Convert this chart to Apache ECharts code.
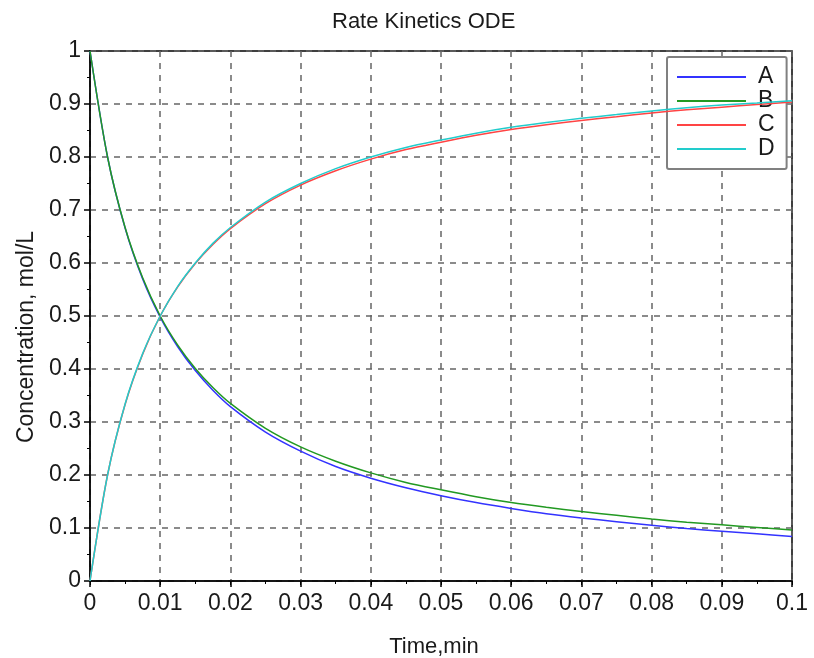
<!DOCTYPE html>
<html><head><meta charset="utf-8">
<script src="https://cdn.jsdelivr.net/npm/echarts@6/dist/echarts.min.js"></script>
<style>html,body{margin:0;padding:0;background:#fff}#c{width:814px;height:658px}</style>
</head><body><div id="c"></div>
<script>
var times = [0, 0.0025, 0.005, 0.0075, 0.01, 0.0125, 0.015, 0.0175, 0.02, 0.025, 0.03, 0.035, 0.04, 0.045, 0.05, 0.055, 0.06, 0.065, 0.07, 0.075, 0.08, 0.085, 0.09, 0.095, 0.1];
var seriesA = [1, 0.8, 0.666, 0.57, 0.498, 0.442, 0.397, 0.36, 0.329, 0.281, 0.245, 0.216, 0.194, 0.176, 0.161, 0.148, 0.137, 0.127, 0.119, 0.112, 0.105, 0.099, 0.094, 0.089, 0.084];
var seriesB = [1, 0.8, 0.667, 0.572, 0.5, 0.445, 0.401, 0.365, 0.335, 0.288, 0.253, 0.226, 0.204, 0.186, 0.172, 0.159, 0.148, 0.139, 0.131, 0.124, 0.117, 0.111, 0.106, 0.101, 0.096];
var seriesC = [0, 0.2, 0.333, 0.428, 0.5, 0.555, 0.599, 0.635, 0.665, 0.712, 0.747, 0.774, 0.796, 0.814, 0.828, 0.841, 0.852, 0.861, 0.869, 0.876, 0.883, 0.889, 0.894, 0.899, 0.904];
var seriesD = [0, 0.2, 0.334, 0.429, 0.5, 0.556, 0.6, 0.637, 0.667, 0.715, 0.75, 0.778, 0.8, 0.818, 0.832, 0.845, 0.856, 0.865, 0.873, 0.88, 0.887, 0.893, 0.898, 0.902, 0.906];
var names = ['A', 'B', 'C', 'D'];
var colors = ['#3333ff', '#229922', '#ff4444', '#22cccc'];

function pairs(vals) { return times.map(function (t, i) { return [t, vals[i]]; }); }
var all = [seriesA, seriesB, seriesC, seriesD];
var FONT = '"Liberation Sans", Arial, sans-serif';
var TXT = '#1a1a1a';
var chart = echarts.init(document.getElementById('c'), null, {renderer: 'canvas'});
var grid = {left: 90, right: 22, top: 51, bottom: 77, show: true, borderColor: '#000', borderWidth: 1.5, backgroundColor: '#fff', containLabel: false, outerBoundsMode: 'none'};
var splitStyle = {show: true, lineStyle: {color: '#666', type: [6, 6], width: 1.5}};
chart.setOption({
  animation: false,
  title: {text: 'Rate Kinetics ODE', left: 327, top: 6, textStyle: {fontFamily: FONT, fontSize: 22, fontWeight: 'normal', color: TXT}},
  grid: grid,
  legend: {
    orient: 'vertical', left: 667, top: 57, padding: [8, 12, 8, 10],
    backgroundColor: '#fff', borderColor: '#808080', borderWidth: 2, borderRadius: 2,
    itemWidth: 69, itemHeight: 2, itemGap: 0, icon: 'rect',
    textStyle: {fontFamily: FONT, fontSize: 23, color: TXT, lineHeight: 24, padding: [0, 0, 0, 7]},
    data: names
  },
  xAxis: [{
    type: 'value', min: 0, max: 0.1, interval: 0.01,
    name: 'Time,min', nameLocation: 'middle', nameGap: 55,
    nameTextStyle: {fontFamily: FONT, fontSize: 22, color: TXT, padding: [0, 14, 0, 0]},
    axisLine: {show: true, onZero: false, lineStyle: {color: '#000', width: 1.5}},
    axisTick: {show: true, length: 6, lineStyle: {color: '#000', width: 1.5}},
    minorTick: {show: true, splitNumber: 2, length: 3, lineStyle: {color: '#000'}},
    axisLabel: {fontFamily: FONT, fontSize: 23, color: TXT, margin: 11, formatter: function (v) { return String(+v.toFixed(2)); }},
    splitLine: splitStyle
  }, {
    type: 'value', min: 0, max: 0.1, interval: 0.01, position: 'top',
    axisLine: {show: false}, axisTick: {show: true, inside: true, length: 4, lineStyle: {color: '#000'}},
    axisLabel: {show: false}, splitLine: {show: false}
  }],
  yAxis: [{
    type: 'value', min: 0, max: 1, interval: 0.1,
    name: 'Concentration, mol/L', nameLocation: 'middle', nameGap: 52,
    nameTextStyle: {fontFamily: FONT, fontSize: 23, color: TXT, padding: [0, 42, 0, 0]},
    axisLine: {show: true, onZero: false, lineStyle: {color: '#000', width: 1.5}},
    axisTick: {show: true, length: 6, lineStyle: {color: '#000', width: 1.5}},
    minorTick: {show: true, splitNumber: 2, length: 3, lineStyle: {color: '#000'}},
    axisLabel: {fontFamily: FONT, fontSize: 23, color: TXT, margin: 9, formatter: function (v) { return String(+v.toFixed(1)); }},
    splitLine: splitStyle
  }],
  series: all.map(function (vals, i) {
    return {
      name: names[i], type: 'line', data: pairs(vals), smooth: 0.3, showSymbol: false, symbol: 'none',
      lineStyle: {color: colors[i], width: 1.5}, itemStyle: {color: colors[i]}, z: 3 + i
    };
  })
});
</script></body></html>
